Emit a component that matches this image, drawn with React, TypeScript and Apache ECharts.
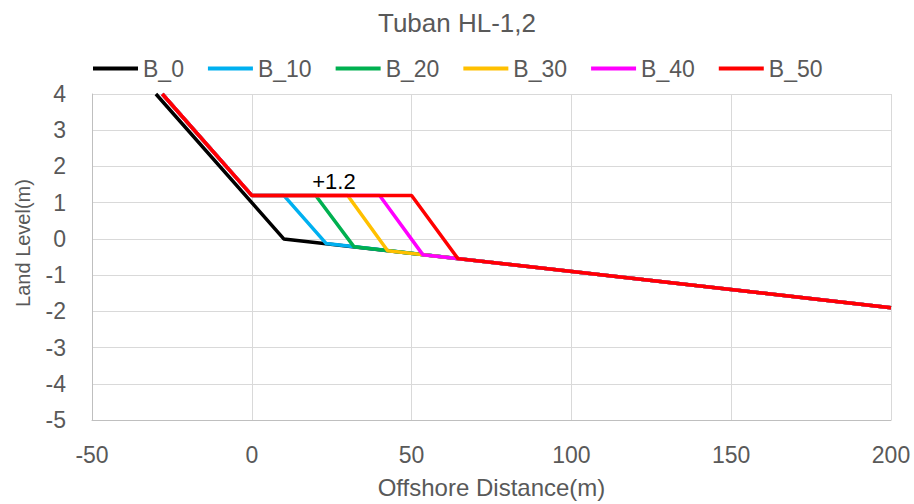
import React, { useEffect, useRef } from "react";
import * as echarts from "echarts";

const TITLE = "Tuban HL-1,2";
const X_NAME = "Offshore Distance(m)";
const Y_NAME = "Land Level(m)";

const SERIES_NAMES = ["B_0", "B_10", "B_20", "B_30", "B_40", "B_50"];
const SERIES_COLORS = ["#000000", "#00b0f0", "#00b050", "#ffc000", "#ff00ff", "#ff0000"];

const B0_X = [-30, 10, 200];
const B0_Y = [4, 0, -1.9];
const B10_X = [-28, 0, 10, 23.3, 200];
const B10_Y = [4, 1.2, 1.2, -0.13, -1.9];
const B20_X = [-28, 0, 20, 32, 200];
const B20_Y = [4, 1.2, 1.2, -0.22, -1.9];
const B30_X = [-28, 0, 30, 42.5, 200];
const B30_Y = [4, 1.2, 1.2, -0.325, -1.9];
const B40_X = [-28, 0, 40, 53.5, 200];
const B40_Y = [4, 1.2, 1.2, -0.435, -1.9];
const B50_X = [-28, 0, 50, 64.5, 200];
const B50_Y = [4, 1.2, 1.2, -0.545, -1.9];

const ALL_X = [B0_X, B10_X, B20_X, B30_X, B40_X, B50_X];
const ALL_Y = [B0_Y, B10_Y, B20_Y, B30_Y, B40_Y, B50_Y];

const CREST_LABEL = "+1.2";
const CREST_LABEL_POS = [25.7, 1.59];

const X_MIN = -50;
const X_MAX = 200;
const X_STEP = 50;
const Y_MIN = -5;
const Y_MAX = 4;
const Y_STEP = 1;

const FONT = "Liberation Sans";
const GRAY = "#595959";

export default function App() {
  const ref = useRef<HTMLDivElement>(null);

  useEffect(() => {
    document.body.style.margin = "0";
    if (!ref.current) return;
    const chart = echarts.init(ref.current, undefined, { renderer: "svg" });

    const series: any[] = SERIES_NAMES.map((name, i) => {
      const s: any = {
        name,
        type: "line",
        data: ALL_X[i].map((x, j) => [x, ALL_Y[i][j]]),
        symbol: "none",
        lineStyle: { color: SERIES_COLORS[i], width: 3.5 },
        itemStyle: { color: SERIES_COLORS[i] },
        z: 2 + i,
      };
      if (i === SERIES_NAMES.length - 1) {
        s.markPoint = {
          symbol: "circle",
          symbolSize: 0,
          silent: true,
          data: [
            {
              coord: CREST_LABEL_POS,
              label: {
                show: true,
                position: "inside",
                formatter: CREST_LABEL,
                color: "#000000",
                fontSize: 22,
                fontFamily: FONT,
              },
            },
          ],
        };
      }
      return s;
    });

    chart.setOption({
      animation: false,
      backgroundColor: "#ffffff",
      title: {
        text: TITLE,
        left: "center",
        top: 10,
        padding: 0,
        textStyle: { color: GRAY, fontSize: 26, fontWeight: "normal", fontFamily: FONT },
      },
      legend: {
        data: SERIES_NAMES,
        left: 93,
        top: 57,
        padding: 0,
        itemWidth: 45,
        itemHeight: 14,
        itemGap: 24,
        icon: "path://M0,0 L45,0 L45,4 L0,4 Z",
        textStyle: { color: GRAY, fontSize: 23, fontFamily: FONT },
      },
      grid: { left: 92, right: 23, top: 94, bottom: 79 },
      xAxis: {
        type: "value",
        min: X_MIN,
        max: X_MAX,
        interval: X_STEP,
        name: X_NAME,
        nameLocation: "middle",
        nameGap: 55,
        nameTextStyle: { color: GRAY, fontSize: 24, fontFamily: FONT },
        axisLine: { show: true, onZero: false, lineStyle: { color: "#bfbfbf", width: 1 } },
        axisTick: { show: false },
        axisLabel: { color: GRAY, fontSize: 23, fontFamily: FONT, margin: 23 },
        splitLine: { show: true, lineStyle: { color: "#d9d9d9", width: 1 } },
      },
      yAxis: {
        type: "value",
        min: Y_MIN,
        max: Y_MAX,
        interval: Y_STEP,
        name: Y_NAME,
        nameLocation: "middle",
        nameGap: 59,
        nameTextStyle: { color: GRAY, fontSize: 20, fontFamily: FONT, padding: [0, 0, 0, 28] },
        axisLine: { show: true, onZero: false, lineStyle: { color: "#bfbfbf", width: 1 } },
        axisTick: { show: false },
        axisLabel: { color: GRAY, fontSize: 23, fontFamily: FONT, margin: 26 },
        splitLine: { show: true, lineStyle: { color: "#d9d9d9", width: 1 } },
      },
      series,
    });

    return () => chart.dispose();
  }, []);

  return (
    <div
      ref={ref}
      style={{ position: "absolute", left: 0, top: 0, width: 914, height: 504 }}
    />
  );
}
